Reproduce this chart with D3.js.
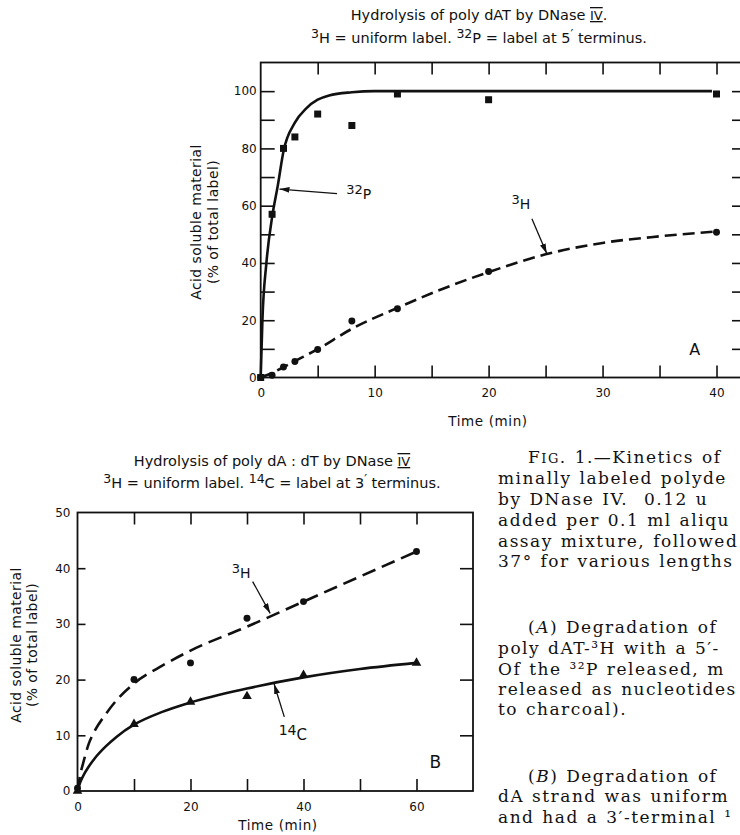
<!DOCTYPE html>
<html>
<head>
<meta charset="utf-8">
<script src="https://cdn.jsdelivr.net/npm/d3@7"></script>
<style>
  body { margin: 0; background: #fff; }
  svg { display: block; }
  .caption { font-family: "DejaVu Serif", serif; font-size: 17px; letter-spacing: 1.5px; word-spacing: 1px; white-space: pre; fill: #111; }
</style>
</head>
<body>
<div id="chart"></div>
<script>
// Panel A: poly dAT, 32P at 5' end vs uniform 3H
const timeA = [0, 1, 2, 3, 5, 8, 12, 20, 40]
const pctA32P = [0, 57, 80, 84, 92, 88, 99, 97, 99]
const pctA3H = [0, 0.8, 3.7, 5.6, 9.8, 19.7, 24, 37, 50.7]
// hand drawn fitted curves
const fitTimeA32P = [0, 0.15, 0.5, 1, 1.5, 2, 3, 4, 5, 6, 8, 10, 39.6]
const fitPctA32P = [0, 20, 40, 56, 67, 79, 89, 94, 97, 98.5, 99.6, 100, 100]
const fitTimeA3H = [0, 1, 2, 3, 5, 8, 12, 16, 20, 25, 30, 35, 40]
const fitPctA3H = [0, 1.6, 3.6, 5.7, 9.9, 17, 24.3, 31, 36.8, 43, 47, 49.3, 51]

// Panel B: poly dA:dT, 14C at 3' end vs uniform 3H
const timeB = [0, 10, 20, 30, 40, 60]
const pctB3H = [0.5, 20, 23, 31, 34, 43]
const pctB14C = [0, 12, 16, 17, 20.8, 23]
const fitTimeB = [0, 0.5, 1, 2, 3, 5, 7, 10, 15, 20, 30, 40, 50, 60]
const fitPctB3H = [0, 3, 5, 8.5, 10.7, 13.8, 16.4, 19.3, 22.5, 25.2, 29.5, 34, 38.5, 43]
const fitPctB14C = [0, 1.6, 2.7, 4.4, 5.8, 8, 9.8, 11.9, 14.2, 15.9, 18.4, 20.4, 21.9, 23]

const ticksA = { x: [5, 10, 15, 20, 25, 30, 35, 40], xLabels: [0, 10, 20, 30, 40], y: [10, 20, 30, 40, 50, 60, 70, 80, 90, 100], yLabels: [0, 20, 40, 60, 80, 100] }
const ticksB = { x: [10, 20, 30, 40, 50, 60], xLabels: [0, 20, 40, 60], y: [10, 20, 30, 40], yLabels: [0, 10, 20, 30, 40, 50] }

const captionLines = [
  ['FIG', '. 1.—Kinetics of'],
  'minally labeled polyde',
  'by DNase IV.  0.12 u',
  'added per 0.1 ml aliqu',
  'assay mixture, followed',
  '37° for various lengths',
  ['A', ' Degradation of'],
  'poly dAT-³H with a 5′-',
  'Of the ³²P released, m',
  'released as nucleotides (',
  'to charcoal).',
  ['B', ' Degradation of'],
  'dA strand was uniform',
  'and had a 3′-terminal ¹'
]

const W = 740, H = 835
const ink = '#111'
const font = '"DejaVu Sans", sans-serif'

const svg = d3.select('#chart').append('svg')
  .attr('width', W).attr('height', H)

svg.append('defs').append('marker')
  .attr('id', 'head')
  .attr('viewBox', '0 0 10 6')
  .attr('refX', 10).attr('refY', 3)
  .attr('markerWidth', 10).attr('markerHeight', 6)
  .attr('markerUnits', 'userSpaceOnUse')
  .attr('orient', 'auto')
  .append('path').attr('d', 'M0,0L10,3L0,6Z').attr('fill', ink)

const styleAxis = (sel) => {
  sel.select('.domain').remove()
  sel.attr('font-family', font).attr('font-size', 12)
  sel.selectAll('line').attr('stroke', ink).attr('stroke-width', 1.6)
  sel.selectAll('text').attr('fill', ink)
}

// run of [text, isSuperscript] pieces; dy keeps the baseline in step
function richText (t, parts, size) {
  let raised = false
  parts.forEach(([s, sup]) => {
    const dy = sup === raised ? 0 : (sup ? -5 : 5)
    raised = sup
    t.append('tspan').text(s).attr('dy', dy).attr('font-size', sup ? size - 2 : size)
  })
}

function title (cx, y1, y2, first, after, second) {
  const t1 = svg.append('text').attr('x', cx).attr('y', y1)
    .attr('text-anchor', 'middle').attr('font-family', font).attr('font-size', 14.5).attr('fill', ink)
  t1.append('tspan').text(first)
  t1.append('tspan').text('IV').attr('font-size', 13).style('text-decoration', 'overline underline')
  t1.append('tspan').text(after)
  const t2 = svg.append('text').attr('x', cx).attr('y', y2)
    .attr('text-anchor', 'middle').attr('font-family', font).attr('fill', ink)
  richText(t2, second, 14.5)
}

function label (g, x, y, pos, sup, base, size) {
  const t = g.append('text').attr('x', x(pos[0])).attr('y', y(pos[1]))
    .attr('font-family', font).attr('fill', ink)
  t.append('tspan').text(sup).attr('font-size', size - 1).attr('dy', -5)
  t.append('tspan').text(base).attr('font-size', size).attr('dy', 5)
}

function arrow (g, x, y, from, to) {
  g.append('line')
    .attr('x1', x(from[0])).attr('y1', y(from[1]))
    .attr('x2', x(to[0])).attr('y2', y(to[1]))
    .attr('stroke', ink).attr('stroke-width', 1.3)
    .attr('marker-end', 'url(#head)')
}

function frame (g, x, y, p) {
  g.append('rect')
    .attr('x', x.range()[0]).attr('y', y.range()[1])
    .attr('width', x.range()[1] - x.range()[0])
    .attr('height', y.range()[0] - y.range()[1])
    .attr('fill', 'none').attr('stroke', ink).attr('stroke-width', 1.8)

  g.append('g').attr('transform', `translate(0,${y.range()[0]})`)
    .call(d3.axisBottom(x).tickValues(d3.sort(new Set([...p.x, ...p.xLabels])))
      .tickSize(-12).tickPadding(11)
      .tickFormat(d => p.xLabels.includes(d) ? d : ''))
    .call(styleAxis)
    .call(s => s.selectAll('.tick').filter(d => d === 0).select('line').remove())
  g.append('g').attr('transform', `translate(0,${y.range()[1]})`)
    .call(d3.axisTop(x).tickValues(p.x).tickSize(-12).tickFormat(''))
    .call(styleAxis)
  g.append('g').attr('transform', `translate(${x.range()[0]},0)`)
    .call(d3.axisLeft(y).tickValues(d3.sort(new Set([...p.y, ...p.yLabels])))
      .tickSize(-p.leftTick).tickPadding(p.leftPad)
      .tickFormat(d => p.yLabels.includes(d) ? d : ''))
    .call(styleAxis)
    .call(s => s.selectAll('.tick').filter(d => !p.y.includes(d)).select('line').remove())
  g.append('g').attr('transform', `translate(${x.range()[1]},0)`)
    .call(d3.axisRight(y).tickValues(p.y).tickSize(-13).tickFormat(''))
    .call(styleAxis)
}

function yTitle (g, cy, lines) {
  lines.forEach(([s, cx]) => {
    g.append('text')
      .attr('transform', `translate(${cx},${cy}) rotate(-90)`)
      .attr('text-anchor', 'middle')
      .attr('font-family', font).attr('font-size', 14).attr('letter-spacing', 0.4)
      .attr('fill', ink).text(s)
  })
}

const square = d3.symbol(d3.symbolSquare, 49)
const circle = d3.symbol(d3.symbolCircle, 38)
const triangle = d3.symbol(d3.symbolTriangle, 40)

function points (g, x, y, xs, ys, sym) {
  g.selectAll(null).data(xs.map((t, i) => [t, ys[i]])).join('path')
    .attr('transform', d => `translate(${x(d[0])},${y(d[1])})`)
    .attr('d', sym).attr('fill', ink)
}

function curve (g, x, y, xs, ys, dash) {
  const line = d3.line().x(d => x(d[0])).y(d => y(d[1])).curve(d3.curveMonotoneX)
  g.append('path').datum(xs.map((t, i) => [t, ys[i]]))
    .attr('d', line).attr('fill', 'none').attr('stroke', ink)
    .attr('stroke-width', 2.6).attr('stroke-dasharray', dash)
}

// ---- Panel A
{
  const g = svg.append('g')
  const x = d3.scaleLinear().domain([0, 42.5]).range([260.7, 745])
  const y = d3.scaleLinear().domain([0, 110]).range([377.5, 62.5])
  title(479, 20, 43, 'Hydrolysis of poly dAT by DNase ', '.',
    [['3', true], ['H = uniform label.  ', false], ['32', true], ['P = label at 5', false], ['\u2032', true], [' terminus.', false]])
  frame(g, x, y, { ...ticksA, leftTick: 14, leftPad: 4 })
  curve(g, x, y, fitTimeA32P, fitPctA32P, null)
  curve(g, x, y, fitTimeA3H, fitPctA3H, '12,6')
  points(g, x, y, timeA, pctA32P, square)
  points(g, x, y, timeA, pctA3H, circle)
  label(g, x, y, [7.5, 62.5], '32', 'P', 14)
  arrow(g, x, y, [6.7, 64.2], [1.65, 65.8])
  label(g, x, y, [22, 59], '3', 'H', 14)
  arrow(g, x, y, [23.8, 55.4], [25.1, 43.3])
  g.append('text').attr('x', x(37.6)).attr('y', y(8))
    .attr('font-family', font).attr('font-size', 16).attr('fill', ink).text('A')
  g.append('text').attr('x', 488).attr('y', 426).attr('text-anchor', 'middle')
    .attr('font-family', font).attr('font-size', 13.5).attr('letter-spacing', 0.6).attr('fill', ink).text('Time (min)')
  yTitle(g, 222, [['Acid soluble material', 201], ['(% of total label)', 218]])
}

// ---- Panel B
{
  const g = svg.append('g')
  const x = d3.scaleLinear().domain([0, 70]).range([77.5, 473])
  const y = d3.scaleLinear().domain([0, 50]).range([791, 512.5])
  title(272, 466, 488, 'Hydrolysis of poly dA : dT by DNase ', '',
    [['3', true], ['H = uniform label.  ', false], ['14', true], ['C = label at 3', false], ['\u2032', true], [' terminus.', false]])
  frame(g, x, y, { ...ticksB, leftTick: 8, leftPad: 7 })
  curve(g, x, y, fitTimeB, fitPctB3H, '14,7')
  curve(g, x, y, fitTimeB, fitPctB14C, null)
  points(g, x, y, timeB, pctB3H, circle)
  points(g, x, y, timeB, pctB14C, triangle)
  label(g, x, y, [27.3, 38.2], '3', 'H', 14)
  arrow(g, x, y, [31, 37.6], [34.1, 31.9])
  label(g, x, y, [35.6, 9.2], '14', 'C', 15)
  arrow(g, x, y, [36.6, 13.3], [34.8, 19.2])
  g.append('text').attr('x', x(62.3)).attr('y', y(4.1))
    .attr('font-family', font).attr('font-size', 17).attr('fill', ink).text('B')
  g.append('text').attr('x', 278).attr('y', 830).attr('text-anchor', 'middle')
    .attr('font-family', font).attr('font-size', 13.5).attr('letter-spacing', 0.6).attr('fill', ink).text('Time (min)')
  yTitle(g, 645, [['Acid soluble material', 21], ['(% of total label)', 37]])
}

// ---- Caption
const baselines = [463, 484, 505, 526, 547, 567, 633, 654, 675, 695, 715, 782, 802, 823]
captionLines.forEach((ln, i) => {
  const indent = Array.isArray(ln)
  const t = svg.append('text').attr('class', 'caption')
    .attr('x', indent ? 528 : 498).attr('y', baselines[i])
  if (!indent) { t.text(ln); return }
  if (ln[0] === 'FIG') {
    t.append('tspan').text('F')
    t.append('tspan').text('IG').attr('font-size', 13)
    t.append('tspan').text(ln[1])
  } else {
    t.append('tspan').text('(')
    t.append('tspan').text(ln[0]).attr('font-style', 'italic')
    t.append('tspan').text(')' + ln[1])
  }
})
</script>
</body>
</html>
